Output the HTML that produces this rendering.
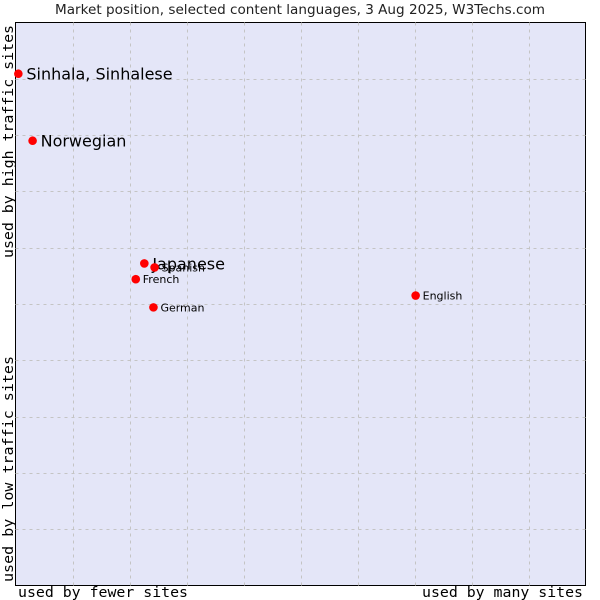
<!DOCTYPE html>
<html><head><meta charset="utf-8"><style>
body{margin:0;background:#fff;}
svg{display:block;}
</style></head><body>
<svg id="chart" width="600" height="600" xmlns="http://www.w3.org/2000/svg">
<text x="55" y="14" textLength="490" lengthAdjust="spacingAndGlyphs" font-family="DejaVu Sans, sans-serif" font-size="13" fill="#222">Market position, selected content languages, 3 Aug 2025, W3Techs.com</text>
<rect x="15.5" y="22.5" width="570" height="563" fill="#e4e6f8" stroke="#000" stroke-width="1"/>
<g id="grid"></g>
<g id="points"></g>
<text x="18" y="597" textLength="170" lengthAdjust="spacingAndGlyphs" font-family="DejaVu Sans Mono, monospace" font-size="14" fill="#000">used by fewer sites</text>
<text x="422" y="597" textLength="161" lengthAdjust="spacingAndGlyphs" font-family="DejaVu Sans Mono, monospace" font-size="14" fill="#000">used by many sites</text>
<text transform="translate(13,258) rotate(-90)" textLength="233" lengthAdjust="spacingAndGlyphs" font-family="DejaVu Sans Mono, monospace" font-size="14" fill="#000">used by high traffic sites</text>
<text transform="translate(13,582) rotate(-90)" textLength="226" lengthAdjust="spacingAndGlyphs" font-family="DejaVu Sans Mono, monospace" font-size="14" fill="#000">used by low traffic sites</text>
</svg>
<script>
const names = ["Sinhala, Sinhalese","Norwegian","Japanese","Spanish","French","German","English"];
const xValues = [0.5,3.0,22.6,24.4,21.1,24.2,70.2];
const yValues = [90.9,79.0,57.2,56.5,54.4,49.4,51.5];
const bigLabel = [true,true,true,false,false,false,false];
const L=15.5,T=22.5,W=570,H=563;
const xs=v=>L+v/100*W, ys=v=>T+H-v/100*H;
const NS="http://www.w3.org/2000/svg";
const grid=document.getElementById('grid');
for(let i=1;i<10;i++){
  const v=document.createElementNS(NS,'line');
  
  
  const x=Math.round(xs(i*10))+0.5;
  v.setAttribute('x1',x);v.setAttribute('x2',x);v.setAttribute('y1',T);v.setAttribute('y2',T+H);
  v.setAttribute('stroke','#c4c4c4');v.setAttribute('stroke-dasharray','3,4');
  grid.appendChild(v);
  const h=document.createElementNS(NS,'line');
  
  
  const y=Math.round(ys(i*10))+0.5;
  h.setAttribute('y1',y);h.setAttribute('y2',y);h.setAttribute('x1',L);h.setAttribute('x2',L+W);
  h.setAttribute('stroke','#c4c4c4');h.setAttribute('stroke-dasharray','3,4');
  grid.appendChild(h);
}
const pts=document.getElementById('points');
names.forEach((n,i)=>{
  const x=xs(xValues[i]),y=ys(yValues[i]);
  const c=document.createElementNS(NS,'circle');
  
  
  c.setAttribute('cx',x);c.setAttribute('cy',y);c.setAttribute('r',4.3);c.setAttribute('fill','#f00');
  pts.appendChild(c);
  const t=document.createElementNS(NS,'text');
  
  
  t.setAttribute('x',x+(bigLabel[i]?8:7));
  t.setAttribute('y',y+(bigLabel[i]?6:4));
  t.setAttribute('font-family','DejaVu Sans, sans-serif');
  t.setAttribute('font-size',bigLabel[i]?16:11);
  t.setAttribute('fill','#000');
  t.textContent=n;
  pts.appendChild(t);
});
</script>
</body></html>
